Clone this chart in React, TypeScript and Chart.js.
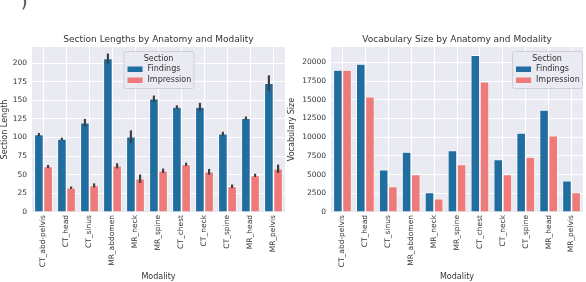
import React, { useEffect, useRef } from "react";
import { Chart, registerables } from "chart.js";
Chart.register(...registerables);

const modalities = ["CT_abd-pelvis", "CT_head", "CT_sinus", "MR_abdomen", "MR_neck", "MR_spine", "CT_chest", "CT_neck", "CT_spine", "MR_head", "MR_pelvis"];
const lengthFindings = [104, 98, 120, 206, 101, 152, 141, 141, 105, 126, 173];
const lengthFindingsErr = [2, 1.8, 5, 6.7, 8.5, 4.3, 2.2, 5.6, 2.7, 2.2, 10.5];
const lengthImpression = [61, 32.6, 35.7, 62, 44.7, 55.4, 64, 54, 34.4, 49.2, 58];
const lengthImpressionErr = [2.2, 1.6, 2.7, 3.4, 5.6, 2.9, 2.2, 3.8, 2.5, 2.2, 5.6];
const lengthTicks = [0, 25, 50, 75, 100, 125, 150, 175, 200];
const vocabFindings = [18970, 19780, 5640, 8040, 2610, 8210, 20970, 7010, 10570, 13640, 4170];
const vocabImpression = [18970, 15410, 3410, 5010, 1770, 6350, 17410, 5010, 7370, 10210, 2610];
const vocabTicks = [0, 2500, 5000, 7500, 10000, 12500, 15000, 17500, 20000];
const seriesNames = ["Findings", "Impression"];
const legendTitle = "Section";

const BLUE = "#1f6e9f";
const CORAL = "#ee7b79";
const BG = "#eaeaf2";
const TEXT = "#333333";
const FAMILY = "'DejaVu Sans', sans-serif";

type Cfg = {
  title: string;
  yTitle: string;
  max: number;
  ticks: number[];
  findings: number[];
  impression: number[];
  errs?: number[][];
  yWidth: number;
  yTitlePad: number;
  xTitlePad: number;
  padRight: number;
  legendAlign: "center" | "right";
};

function makeChart(canvas: HTMLCanvasElement, c: Cfg) {
  const bgPlugin = {
    id: "bgFill",
    beforeDraw(chart: any) {
      const { ctx, chartArea: a } = chart;
      ctx.save();
      ctx.fillStyle = BG;
      ctx.fillRect(a.left, a.top, a.right - a.left, a.bottom - a.top);
      ctx.fillStyle = TEXT;
      ctx.font = `9px ${FAMILY}`;
      ctx.textAlign = "center";
      ctx.textBaseline = "middle";
      ctx.fillText(c.title, (a.left + a.right) / 2, a.top - 7.5);
      ctx.restore();
    },
  };
  const errPlugin = {
    id: "errBars",
    afterDatasetsDraw(chart: any) {
      if (!c.errs) return;
      const { ctx } = chart;
      const ys = chart.scales.y;
      ctx.save();
      ctx.strokeStyle = "#404040";
      ctx.lineWidth = 2.2;
      chart.data.datasets.forEach((ds: any, i: number) => {
        const meta = chart.getDatasetMeta(i);
        meta.data.forEach((bar: any, j: number) => {
          const v = ds.data[j];
          const e = c.errs![i][j];
          ctx.beginPath();
          ctx.moveTo(bar.x, ys.getPixelForValue(v - e));
          ctx.lineTo(bar.x, ys.getPixelForValue(v + e));
          ctx.stroke();
        });
      });
      ctx.restore();
    },
  };
  const legendPlugin = {
    id: "boxLegend",
    afterDraw(chart: any) {
      const { ctx, chartArea: a } = chart;
      const w = 70;
      const h = 37;
      const x = c.legendAlign === "center" ? (a.left + a.right) / 2 - w / 2 : a.right - w - 1;
      const y = a.top + 4;
      ctx.save();
      ctx.fillStyle = "rgba(234,234,242,0.85)";
      ctx.strokeStyle = "#cfcfd6";
      ctx.lineWidth = 1;
      ctx.beginPath();
      ctx.roundRect(x + 0.5, y + 0.5, w, h, 2);
      ctx.fill();
      ctx.stroke();
      ctx.fillStyle = TEXT;
      ctx.font = `8px ${FAMILY}`;
      ctx.textBaseline = "middle";
      ctx.textAlign = "center";
      ctx.fillText(legendTitle, x + w / 2, y + 7.5);
      ctx.textAlign = "left";
      const colors = [BLUE, CORAL];
      seriesNames.forEach((n, i) => {
        const cy = y + 18 + i * 11;
        ctx.fillStyle = colors[i];
        ctx.fillRect(x + 4, cy - 2.5, 15, 5.5);
        ctx.fillStyle = TEXT;
        ctx.fillText(n, x + 24, cy);
      });
      ctx.restore();
    },
  };
  const font = { family: FAMILY, size: 7.5 };
  return new Chart(canvas, {
    type: "bar",
    data: {
      labels: modalities,
      datasets: [
        { label: seriesNames[0], data: c.findings, backgroundColor: BLUE, borderColor: "#ffffff", borderWidth: 0.8, borderSkipped: "bottom", categoryPercentage: 0.8, barPercentage: 1 },
        { label: seriesNames[1], data: c.impression, backgroundColor: CORAL, borderColor: "#ffffff", borderWidth: 0.8, borderSkipped: "bottom", categoryPercentage: 0.8, barPercentage: 1 },
      ],
    },
    options: {
      animation: false,
      responsive: false,
      maintainAspectRatio: false,
      devicePixelRatio: 1,
      layout: { padding: { top: 47, left: 0, right: c.padRight, bottom: 0 } },
      plugins: {
        legend: { display: false },
        tooltip: { enabled: false },
        title: { display: false },
      },
      scales: {
        x: {
          afterFit: (s: any) => {
            s.height = 70;
          },
          ticks: { minRotation: 90, maxRotation: 90, autoSkip: false, font, color: TEXT, padding: 3 },
          grid: { color: "#ffffff", lineWidth: 1, offset: false, drawTicks: false },
          border: { display: false },
          title: { display: true, text: "Modality", color: TEXT, font: { family: FAMILY, size: 8 }, padding: { top: c.xTitlePad, bottom: 0 } },
        },
        y: {
          type: "linear",
          min: 0,
          max: c.max,
          afterFit: (s: any) => {
            s.width = c.yWidth;
          },
          afterBuildTicks: (s: any) => {
            s.ticks = c.ticks.map((v) => ({ value: v }));
          },
          ticks: { autoSkip: false, font, color: TEXT, padding: 5, callback: (v: any) => String(v) },
          grid: { color: "#ffffff", lineWidth: 1, drawTicks: false },
          border: { display: false },
          title: { display: true, text: c.yTitle, color: TEXT, font: { family: FAMILY, size: 8 }, padding: { top: c.yTitlePad, bottom: 0 } },
        },
      },
    } as any,
    plugins: [bgPlugin, errPlugin, legendPlugin],
  });
}

export default function App() {
  const leftRef = useRef<HTMLCanvasElement>(null);
  const rightRef = useRef<HTMLCanvasElement>(null);
  useEffect(() => {
    document.body.style.margin = "0";
    const a = makeChart(leftRef.current!, {
      title: "Section Lengths by Anatomy and Modality",
      yTitle: "Section Length",
      max: 221.5,
      ticks: lengthTicks,
      findings: lengthFindings,
      impression: lengthImpression,
      errs: [lengthFindingsErr, lengthImpressionErr],
      yWidth: 32,
      yTitlePad: 0,
      xTitlePad: 3,
      padRight: 5,
      legendAlign: "center",
    });
    const b = makeChart(rightRef.current!, {
      title: "Vocabulary Size by Anatomy and Modality",
      yTitle: "Vocabulary Size",
      max: 22050,
      ticks: vocabTicks,
      findings: vocabFindings,
      impression: vocabImpression,
      yWidth: 49,
      yTitlePad: 5,
      xTitlePad: 0,
      padRight: 3,
      legendAlign: "right",
    });
    return () => {
      a.destroy();
      b.destroy();
    };
  }, []);
  return (
    <div style={{ position: "relative", width: 586, height: 282, background: "#fff", overflow: "hidden" }}>
      <span style={{ position: "absolute", left: 21, top: -8, fontSize: 16, fontFamily: "DejaVu Sans", color: "#333" }}>)</span>
      <canvas ref={leftRef} width={290} height={282} style={{ position: "absolute", left: 0, top: 0 }} />
      <canvas ref={rightRef} width={304} height={282} style={{ position: "absolute", left: 282, top: 0 }} />
    </div>
  );
}
